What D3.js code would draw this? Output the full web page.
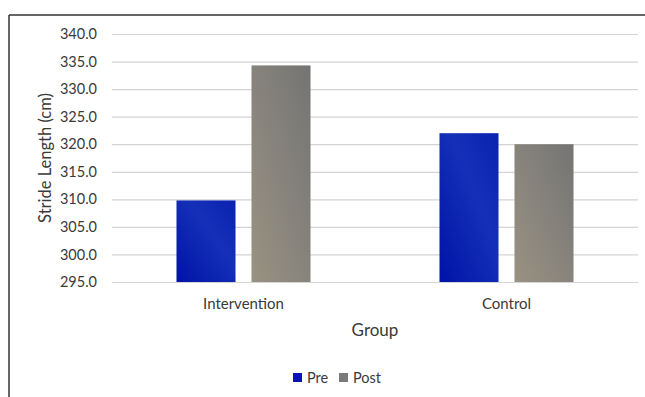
<!DOCTYPE html>
<html>
<head>
<meta charset="utf-8">
<script src="https://cdn.jsdelivr.net/npm/d3@7"></script>
<style>
  html, body { margin: 0; padding: 0; background: #fff; }
  svg { display: block; font-family: Lato, "Open Sans", sans-serif; }
</style>
</head>
<body>
<svg id="chart" width="645" height="397"></svg>
<script>
// Stride length by group, before and after
const groups = ["Intervention", "Control"];
const series = ["Pre", "Post"];
const preValues = [309.8, 322.0];
const postValues = [334.3, 320.0];
const yTicks = [295, 300, 305, 310, 315, 320, 325, 330, 335, 340];

const rows = groups.map((g, i) => ({ group: g, values: [preValues[i], postValues[i]] }));

const svg = d3.select("#chart");
const W = 645, H = 397;
const plot = { left: 112, right: 638, top: 34, bottom: 282 };
const textColor = "#3a3a3a";

// Fills: deep blue gradient for Pre, warm grey gradient for Post
const defs = svg.append("defs");
const gPre = defs.append("linearGradient").attr("id", "fillPre")
  .attr("x1", "0").attr("y1", "1").attr("x2", "1").attr("y2", "0");
gPre.append("stop").attr("offset", "0%").attr("stop-color", "#0012a8");
gPre.append("stop").attr("offset", "60%").attr("stop-color", "#1530b8");
gPre.append("stop").attr("offset", "100%").attr("stop-color", "#0a22b0");
const gPost = defs.append("linearGradient").attr("id", "fillPost")
  .attr("x1", "0").attr("y1", "1").attr("x2", "1").attr("y2", "0");
gPost.append("stop").attr("offset", "0%").attr("stop-color", "#9a9282");
gPost.append("stop").attr("offset", "55%").attr("stop-color", "#85827b");
gPost.append("stop").attr("offset", "100%").attr("stop-color", "#747474");
const colors = { Pre: "url(#fillPre)", Post: "url(#fillPost)" };
const swatch = { Pre: "#0a14b4", Post: "#7a7a7a" };

// Frame (top and left edges)
svg.append("line").attr("x1", 9).attr("x2", W).attr("y1", 15).attr("y2", 15)
  .attr("stroke", "#333").attr("stroke-width", 1.5);
svg.append("line").attr("x1", 9).attr("x2", 9).attr("y1", 15).attr("y2", H)
  .attr("stroke", "#333").attr("stroke-width", 1.5);

const y = d3.scaleLinear().domain([295, 340]).range([plot.bottom, plot.top]);
const x0 = d3.scaleBand().domain(groups).range([plot.left, plot.right]).padding(0);
const x1 = d3.scaleBand().domain(series).range([0, x0.bandwidth()])
  .paddingInner(0.213).paddingOuter(0.86);

// Gridlines and value labels
const yAxis = d3.axisLeft(y).tickValues(yTicks).tickFormat(d3.format(".1f"))
  .tickSize(-(plot.right - plot.left)).tickPadding(15);
const ya = svg.append("g").attr("transform", `translate(${plot.left},0)`).call(yAxis);
ya.select(".domain").remove();
ya.selectAll(".tick line").attr("stroke", "#d4d4d4").attr("stroke-width", 1.2);
ya.selectAll(".tick text").attr("fill", textColor).style("font-size", "14.5px")
  .style("font-family", "Lato, 'Open Sans', sans-serif");

// Bars
const grp = svg.append("g").selectAll("g").data(rows).join("g")
  .attr("transform", d => `translate(${x0(d.group)},0)`);
grp.selectAll("rect")
  .data(d => series.map((s, i) => ({ key: s, value: d.values[i] })))
  .join("rect")
  .attr("x", d => x1(d.key))
  .attr("width", x1.bandwidth())
  .attr("y", d => y(d.value))
  .attr("height", d => y(295) - y(d.value))
  .attr("fill", d => colors[d.key]);

// Category axis
const xAxis = d3.axisBottom(x0).tickSize(0).tickPadding(16);
const xa = svg.append("g").attr("transform", `translate(0,${plot.bottom})`).call(xAxis);
xa.select(".domain").attr("stroke", "#d4d4d4").attr("stroke-width", 1.2);
xa.selectAll(".tick text").attr("fill", textColor).style("font-size", "15px")
  .style("font-family", "Lato, 'Open Sans', sans-serif");

// Axis titles
svg.append("text").attr("x", 375).attr("y", 336).attr("text-anchor", "middle")
  .attr("fill", textColor).style("font-size", "17px").text("Group");
svg.append("text").attr("transform", "translate(51,158) rotate(-90)")
  .attr("text-anchor", "middle").attr("fill", textColor).style("font-size", "16.5px")
  .text("Stride Length (cm)");

// Legend
const legend = svg.append("g").attr("transform", "translate(293,378)");
const legendX = { Pre: 0, Post: 46 };
series.forEach(s => {
  const g = legend.append("g").attr("transform", `translate(${legendX[s]},0)`);
  g.append("rect").attr("x", 0).attr("y", -5).attr("width", 9).attr("height", 9)
    .attr("fill", swatch[s]);
  g.append("text").attr("x", 14).attr("y", 0).attr("dy", "0.35em")
    .attr("fill", textColor).style("font-size", "14.5px").text(s);
});
</script>
</body>
</html>
